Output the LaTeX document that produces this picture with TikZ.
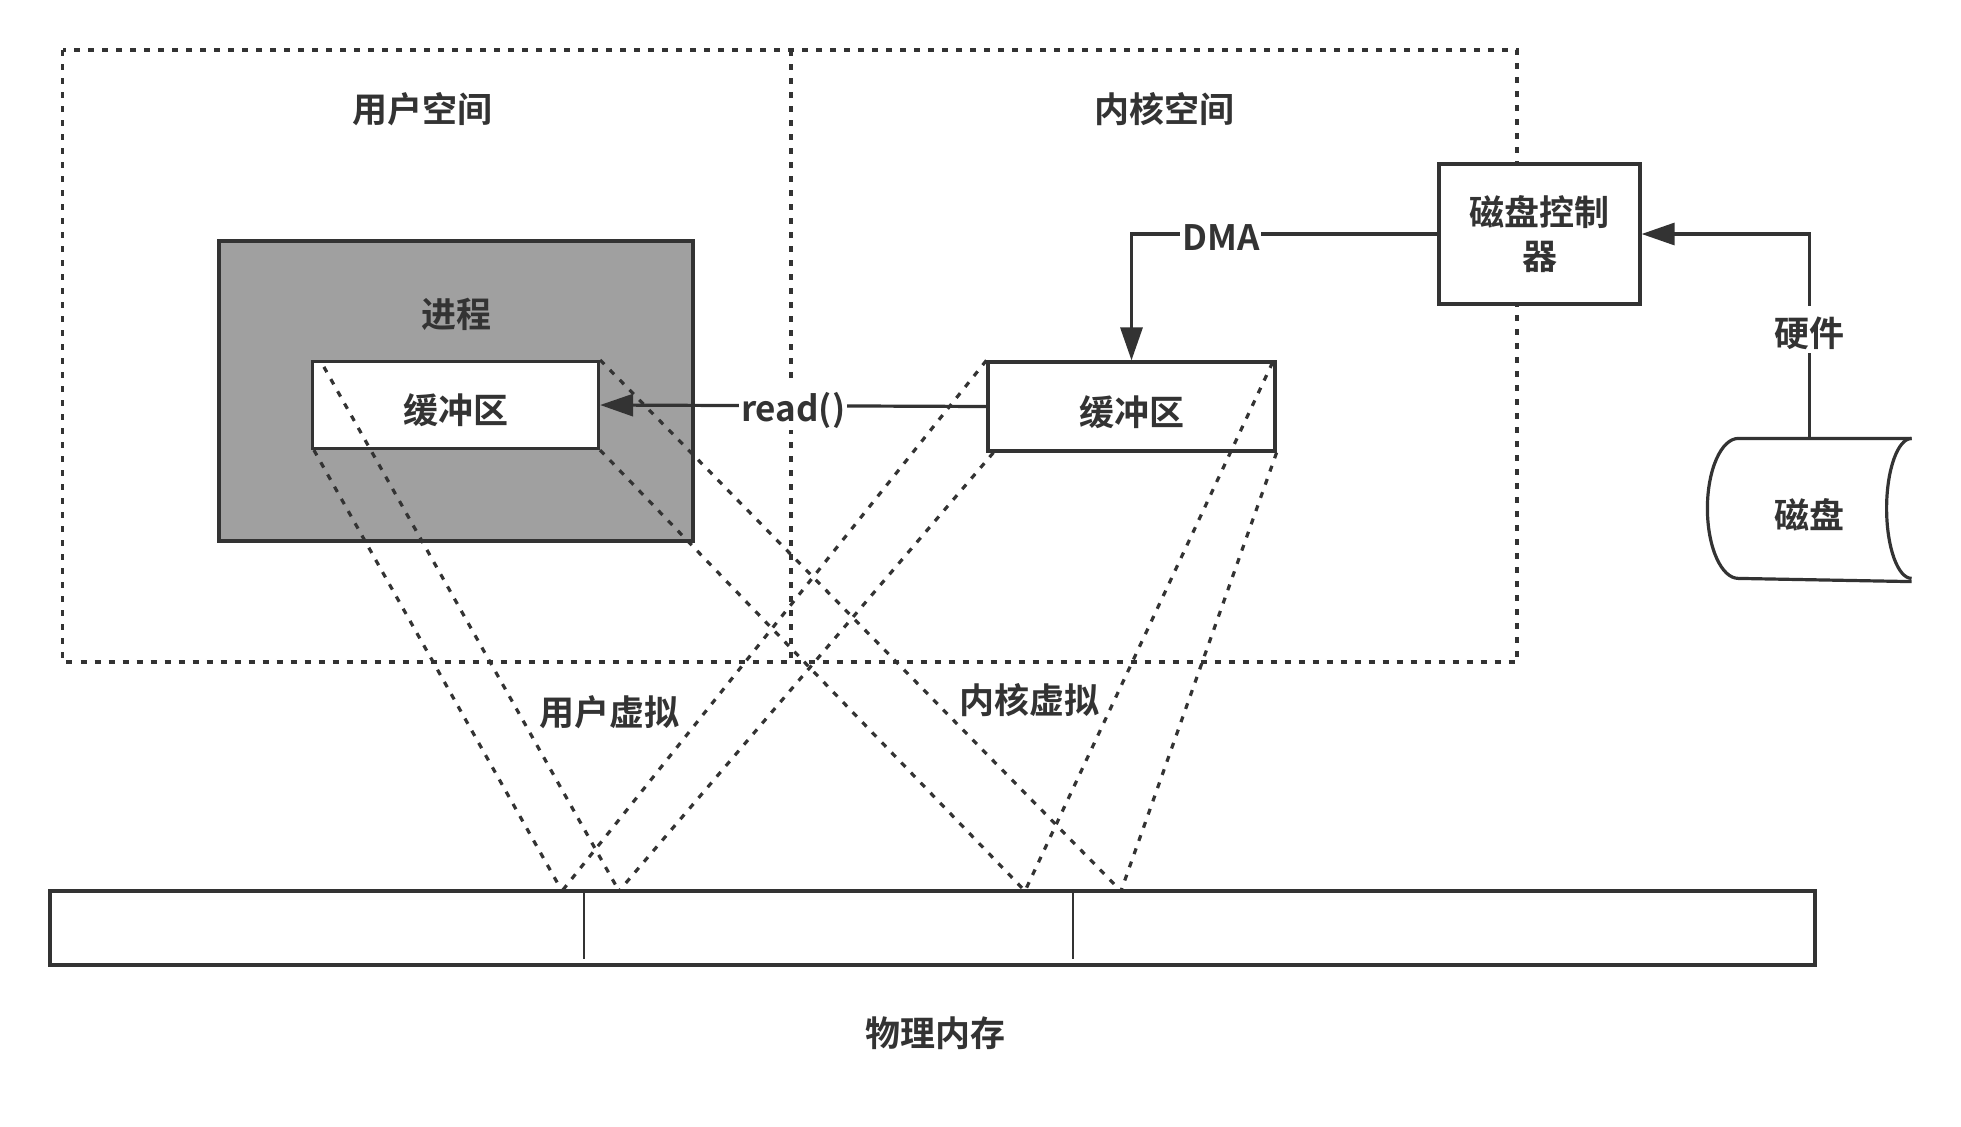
\documentclass[tikz,border=0pt]{standalone}
\usepackage{fontspec}
\setmainfont{Noto Sans CJK SC}[BoldFont={Noto Sans CJK SC Bold}]
\usetikzlibrary{arrows.meta}
\definecolor{ink}{HTML}{333333}
\definecolor{procgray}{HTML}{A0A0A0}

\begin{document}
\begin{tikzpicture}[x=0.5pt,y=-0.5pt,line width=1.6pt,color=ink,font=\bfseries\fontsize{17.5pt}{22pt}\selectfont]
\tikzstyle{every node}+=[inner sep=0pt]
\tikzstyle{low}=[text height=20pt,text depth=1.5pt]
\tikzstyle{box}=[draw=ink,fill=white,rectangle]
\tikzstyle{dots}=[draw=ink,dash pattern=on 3pt off 4pt]
\tikzstyle{arr}=[draw=ink,-{Triangle[length=16.5pt,width=11pt]}]
\tikzstyle{lbl}=[fill=white,inner xsep=1pt,inner ysep=2pt,text height=18pt,text depth=2pt]
\useasboundingbox (0,0) rectangle (1961,1126);
\draw[dots] (62.5,50) rectangle (1517,662);
\draw[dots] (791,50) -- (791,662);
\node (usrlbl) at (422,109) {用户空间};
\node (krnlbl) at (1164.5,109) {内核空间};
\node[box,fill=procgray,minimum width=237pt,minimum height=150pt] (proc) at (456,391) {};
\node (proclbl) at (456,314) {进程};
\node[box,low,minimum width=143pt,minimum height=43.5pt] (ubuf) at (455.5,405) {缓冲区};
\node[box,low,minimum width=143.5pt,minimum height=44.5pt] (kbuf) at (1131.5,406.5) {缓冲区};
\node[box,minimum width=100.5pt,minimum height=70pt,align=center] (ctrl) at (1539.5,234) {磁盘控制\\器};
\node[low,minimum width=100.5pt,minimum height=70pt] (disk) at (1809.5,510) {磁盘};
\draw (disk.north east) -- ([xshift=15.5pt]disk.north west) arc[start angle=90,end angle=270,x radius=15.5pt,y radius=35pt] -- (disk.south east);
\draw (disk.north east) arc[start angle=90,end angle=270,x radius=12.5pt,y radius=35pt];
\node[box,minimum width=882.5pt,minimum height=37pt] (mem) at (932.5,928) {};
\foreach \x in {584,1072.5}
  \draw[line width=1pt] (\x,891) -- (\x,959);
\node (memlbl) at (935,1033) {物理内存};
\node (uvlbl) at (609,712) {用户虚拟};
\node (kvlbl) at (1029,700) {内核虚拟};
\coordinate (m1) at (562,891);
\coordinate (m2) at (619,891);
\coordinate (m3) at (1025,891);
\coordinate (m4) at (1121,891);
\draw[dots] ([shift={(13,7)}]ubuf.north west) -- (m2);
\draw[dots] ([xshift=1.5pt]ubuf.south west) -- (m1);
\draw[dots] (ubuf.north east) -- (m4);
\draw[dots] (ubuf.south east) -- (m3);
\draw[dots] (kbuf.north west) -- (m1);
\draw[dots] ([xshift=3.5pt]kbuf.south west) -- (m2);
\draw[dots] ([shift={(-4,2)}]kbuf.north east) -- (m3);
\draw[dots] (kbuf.south east) -- (m4);
\draw[arr] (kbuf.west) -- node[lbl] {read()} (ubuf.east);
\draw[arr] (ctrl.west) -| node[lbl,pos=0.354] {DMA} (kbuf.north);
\draw[arr] (disk.north) |- node[lbl,pos=0.266,text depth=1.5pt] {硬件} (ctrl.east);
\end{tikzpicture}
\end{document}
